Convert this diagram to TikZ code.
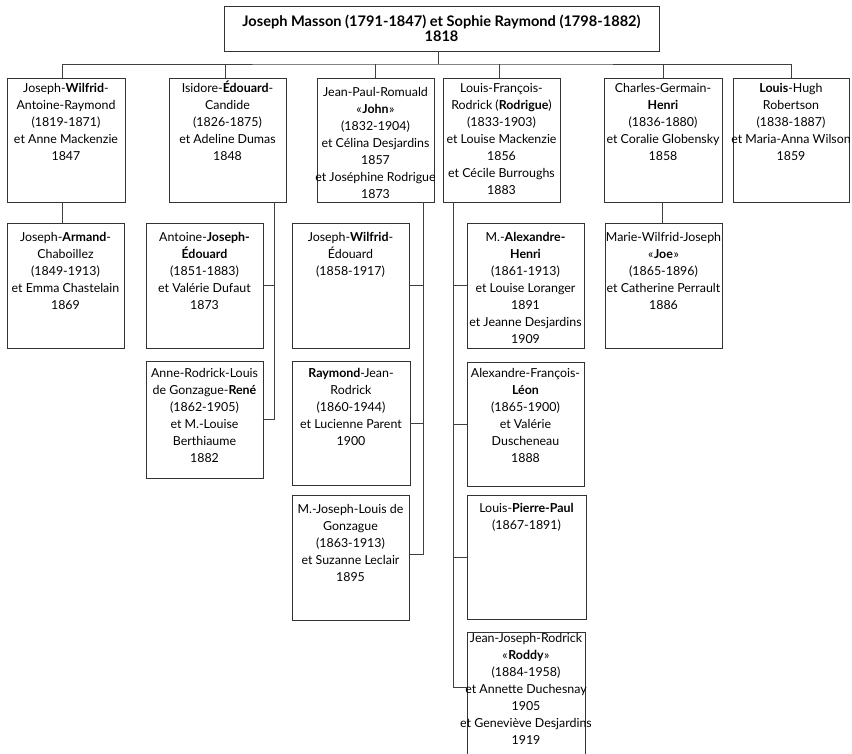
\documentclass[tikz,border=0pt]{standalone}
\usepackage{fontspec}
\setmainfont{Lato}
\usetikzlibrary{calc}
\tikzset{
  pbox/.style={draw=black!80, line width=0.9pt, rectangle, inner sep=0pt, outer sep=0pt, anchor=north west},
  ptext/.style={anchor=north, align=center, inner sep=0pt, font=\fontsize{12.4}{17}\selectfont},
  link/.style={draw=black!75, line width=0.9pt},
}
\newcommand{\famb}[7]{%
  \node[pbox, minimum width={#4-#2}, minimum height={#5-#3}] (#1) at (#2,#3) {};
  \node[ptext] (#1t) at ({(#2+#4)/2},{#6-7.5}) {\rule{0pt}{12pt}#7};}
\newcommand{\gq}[1]{«\kern0.6pt\textbf{#1}\kern0.6pt»}
\begin{document}
\begin{tikzpicture}[x=1pt,y=-1pt]
\useasboundingbox (0,0) rectangle (852,753);
% top couple
\node[pbox, minimum width=435, minimum height=45] (top) at (224,6) {};
\node[anchor=north, align=center, inner sep=0pt, font=\fontsize{14.6}{15.5}\selectfont\bfseries] (topt) at (441.5,14) {\rule{0pt}{12pt}Joseph Masson (1791-1847) et Sophie Raymond (1798-1882)\\1818};
% row 1
\famb{wilfrid}{7}{78}{125}{202}{88}{Joseph-\textbf{Wilfrid}-\\Antoine-Raymond\\(1819-1871)\\et Anne Mackenzie\\1847}
\famb{edouard}{169}{78}{286}{202}{88}{Isidore-\textbf{Édouard}-\\Candide\\(1826-1875)\\et Adeline Dumas\\1848}
\famb{john}{317}{78}{434}{202}{92}{Jean-Paul-Romuald\\\gq{John}\\(1832-1904)\\et Célina Desjardins\\1857\\et Joséphine Rodrigue\\1873}
\famb{rodrigue}{443}{78}{560}{202}{88}{Louis-François-\\Rodrick (\textbf{Rodrigue})\\(1833-1903)\\et Louise Mackenzie\\1856\\et Cécile Burroughs\\1883}
\famb{henri}{604}{78}{722}{202}{88}{Charles-Germain-\\\textbf{Henri}\\(1836-1880)\\et Coralie Globensky\\1858}
\famb{louis}{733}{78}{849}{202}{88}{\textbf{Louis}-Hugh\\Robertson\\(1838-1887)\\et Maria-Anna Wilson\\1859}
% row 2
\famb{armand}{7}{223}{124}{348}{237}{Joseph-\textbf{Armand}-\\Chaboillez\\(1849-1913)\\et Emma Chastelain\\1869}
\famb{antoine}{146}{223}{263}{348}{237}{Antoine-\textbf{Joseph-}\\\textbf{Édouard}\\(1851-1883)\\et Valérie Dufaut\\1873}
\famb{jwe}{292}{223}{409}{348}{237}{Joseph-\textbf{Wilfrid}-\\Édouard\\(1858-1917)}
\famb{alexhenri}{467}{223}{584}{348}{237}{M.-\textbf{Alexandre-}\\\textbf{Henri}\\(1861-1913)\\et Louise Loranger\\1891\\et Jeanne Desjardins\\1909}
\famb{joe}{605}{223}{722}{348}{237}{Marie-Wilfrid-Joseph\\\gq{Joe}\\(1865-1896)\\et Catherine Perrault\\1886}
% row 3
\famb{rene}{146}{361}{263}{478}{373}{Anne-Rodrick-Louis\\de Gonzague-\textbf{René}\\(1862-1905)\\et M.-Louise\\Berthiaume\\1882}
\famb{raymond}{292}{361}{410}{485}{373}{\textbf{Raymond}-Jean-\\Rodrick\\(1860-1944)\\et Lucienne Parent\\1900}
\famb{leon}{467}{362}{584}{486}{373}{Alexandre-François-\\\textbf{Léon}\\(1865-1900)\\et Valérie\\Duscheneau\\1888}
% row 4
\famb{mjl}{292}{495}{409}{620}{509}{M.-Joseph-Louis de\\Gonzague\\(1863-1913)\\et Suzanne Leclair\\1895}
\famb{pierre}{467}{495}{586}{619}{508}{Louis-\textbf{Pierre-Paul}\\(1867-1891)}
% row 5
\famb{roddy}{467}{632}{585}{760}{638}{Jean-Joseph-Rodrick\\\gq{Roddy}\\(1884-1958)\\et Annette Duchesnay\\1905\\et Geneviève Desjardins\\1919}
% connectors from the couple
\draw[link] ($(top.south)+(-3,0)$) -- ++(0,13) coordinate (bus);
\draw[link] ($(wilfrid.north)+(-4,0)$) |- (bus) -| (louis.north);
\draw[link] ($(edouard.north)+(-2.5,0)$) -- ($(edouard.north |- bus)+(-2.5,0)$);
\draw[link] (john.north) -- (john.north |- bus);
\draw[link] ($(rodrigue.north)+(-2.5,0)$) -- ($(rodrigue.north |- bus)+(-2.5,0)$);
\draw[link] (henri.north) -- (henri.north |- bus);
% Wilfrid and Henri
\draw[link] ($(wilfrid.south)+(-4,0)$) -- ($(armand.north)+(-3.5,0)$);
\draw[link] ($(henri.south)+(-1,0)$) -- ($(joe.north)+(-1.5,0)$);
% Edouard
\draw[link] ($(edouard.south)+(46.5,0)$) coordinate (eb) |- (rene.east);
\draw[link] (antoine.east) -- (antoine.east -| eb);
% John
\draw[link] ($(john.south)+(47.5,0)$) coordinate (jb) |- ($(mjl.east)+(0,-3.5)$);
\draw[link] (jwe.east) -- (jwe.east -| jb);
\draw[link] (raymond.east) -- (raymond.east -| jb);
% Rodrigue
\draw[link] ($(rodrigue.south)+(-48.5,0)$) coordinate (rb) |- ($(roddy.north west)+(0,55)$);
\draw[link] (alexhenri.west) -- (alexhenri.west -| rb);
\draw[link] (leon.west) -- (leon.west -| rb);
\draw[link] (pierre.west) -- (pierre.west -| rb);
\end{tikzpicture}
\end{document}
